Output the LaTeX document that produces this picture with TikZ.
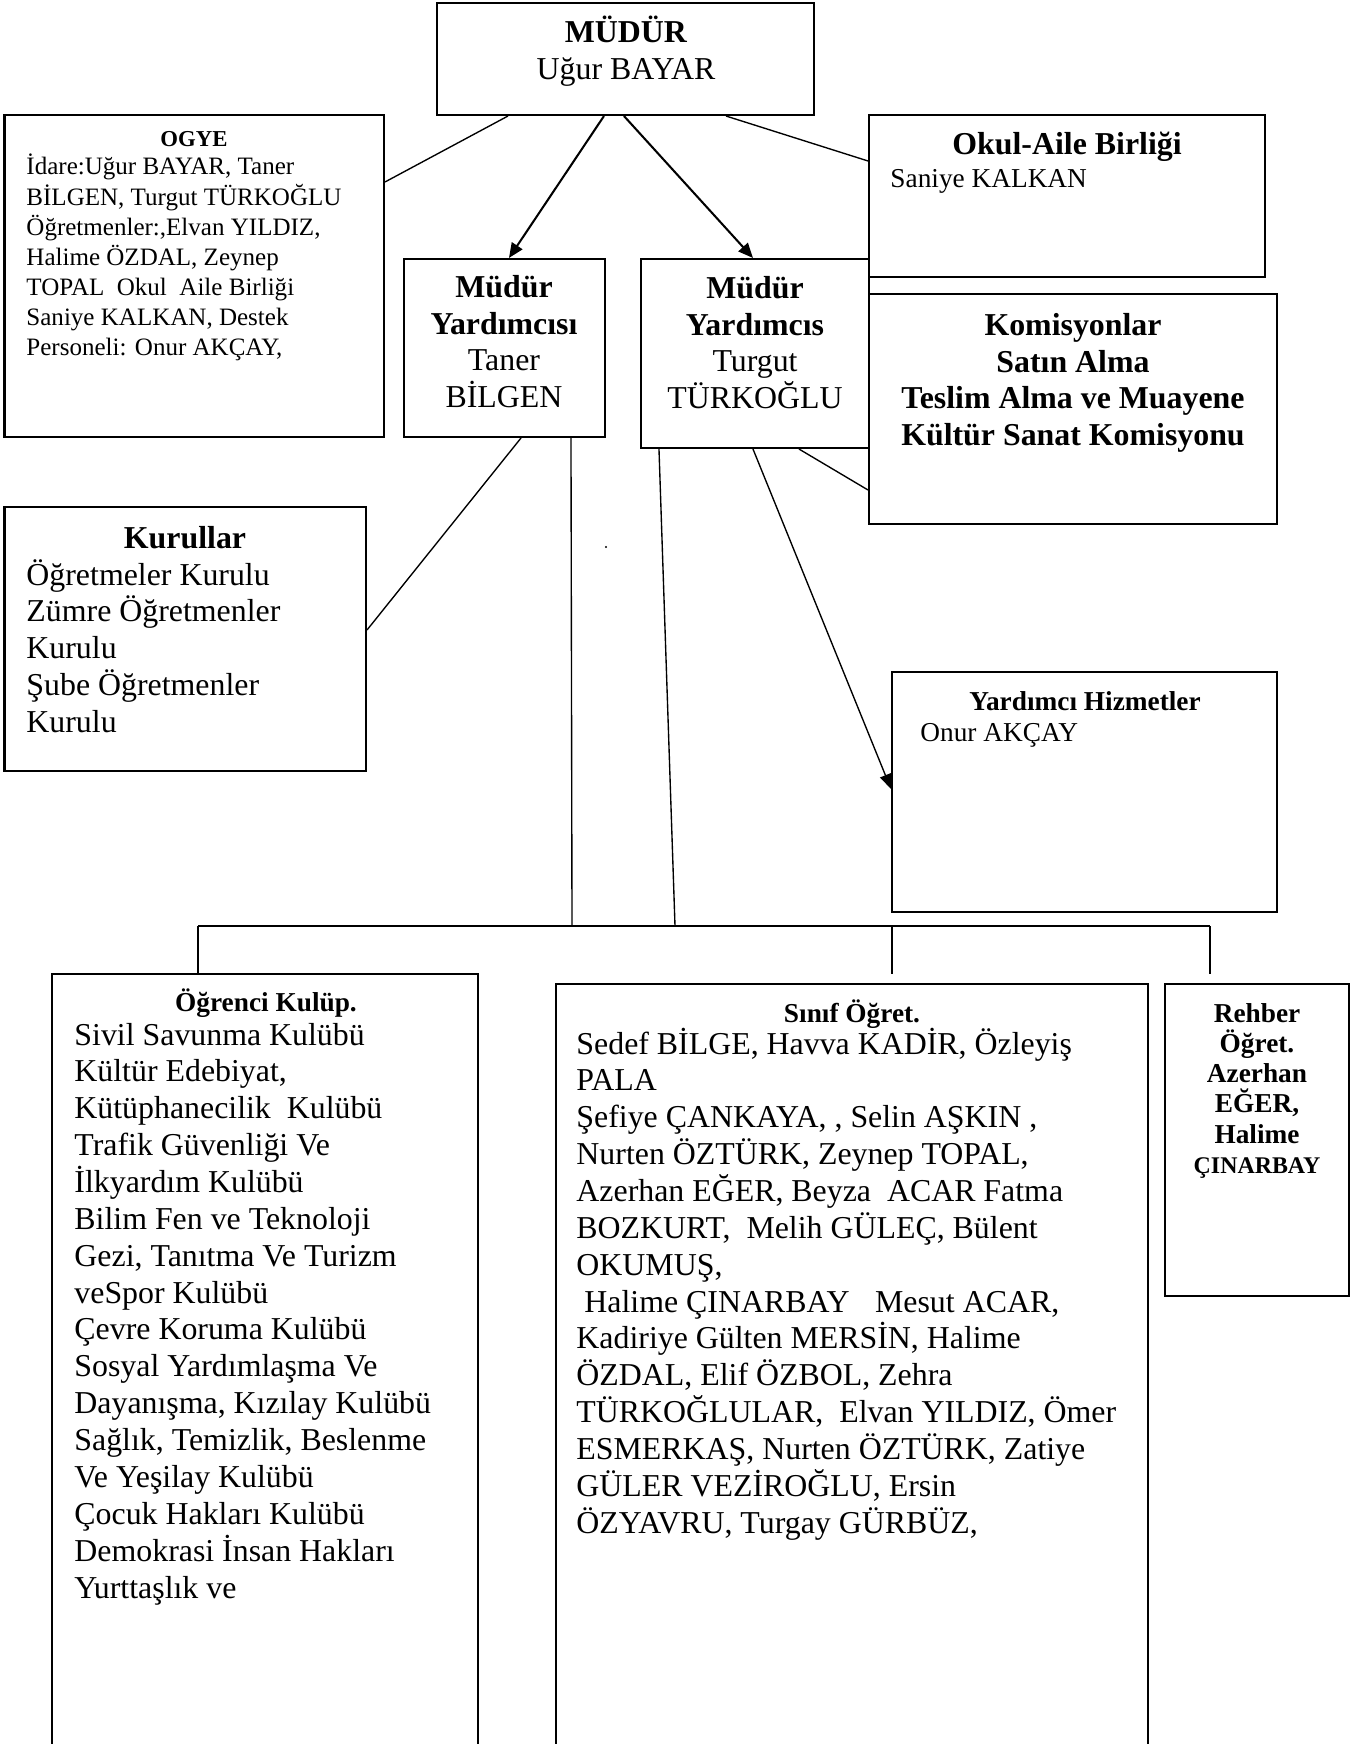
\documentclass[tikz,border=0pt]{standalone}
\usepackage{fontspec}
\setmainfont{Liberation Serif}
\usetikzlibrary{fit,calc,arrows.meta}
\begin{document}
\begin{tikzpicture}[x=0.4394pt,y=-0.4394pt,
  box/.style={draw,line width=0.9pt,inner sep=0pt},
  link/.style={line width=0.6pt},
  arr/.style={line width=0.9pt,-{Triangle[length=6.5pt,width=5.5pt]}},
  arrthin/.style={line width=0.6pt,-{Triangle[length=6.5pt,width=5pt]}},
  txt/.style={inner sep=0pt,anchor=base west},
  ctxt/.style={inner sep=0pt,anchor=base},
]
\useasboundingbox (0,0) rectangle (1355,1744);
\clip (0,0) rectangle (1355,1744);

% ---- boxes
\node[box, fit={(437,3) (814,115)}] (mudur) {};
\node[box, fit={(4.5,115) (384,437)}] (ogye) {};
\node[box, fit={(869,115) (1265,277)}] (oab) {};
\node[box, fit={(404,259) (605,437)}] (my1) {};
\node[box, fit={(641,259) (869,448)}] (my2) {};
\node[box, fit={(869,294) (1277,524)}] (kom) {};
\node[box, fit={(4.5,507) (366,771)}] (kur) {};
\node[box, fit={(892,672) (1277,912)}] (yh) {};
\node[box, fit={(52,974) (478,1780)}] (ok) {};
\node[box, fit={(556,984) (1148,1780)}] (sinif) {};
\node[box, fit={(1165,984) (1349,1296)}] (rehber) {};

% ---- texts
\node[ctxt] (mudurT) at (626,43) {\parbox[t]{300pt}{\centering\fontsize{14}{16.26}\selectfont
  \textbf{MÜDÜR}\\Uğur BAYAR}};

\node[ctxt] (ogyeH) at (194,147) {\fontsize{10}{12}\selectfont\bfseries OGYE};
\node[txt] (ogyeT) at (26,175) {\parbox[t]{300pt}{\raggedright\fontsize{11}{13.2}\selectfont
  İdare:Uğur BAYAR, Taner\\
  BİLGEN, Turgut TÜRKOĞLU\\
  Öğretmenler:,Elvan YILDIZ,\\
  Halime ÖZDAL, Zeynep\\
  TOPAL\ \ Okul\ \ Aile Birliği\\
  Saniye KALKAN, Destek\\
  Personeli: Onur AKÇAY,}};

\node[ctxt] (oabH) at (1067,155) {\fontsize{14}{16}\selectfont\bfseries Okul-Aile Birliği};
\node[txt] (oabT) at (890,188) {\fontsize{12}{14}\selectfont Saniye KALKAN};

\node[ctxt] (my1T) at (504,298) {\parbox[t]{150pt}{\centering\fontsize{14}{16}\selectfont
  \textbf{Müdür}\\\textbf{Yardımcısı}\\Taner\\BİLGEN}};
\node[ctxt] (my2T) at (755,299) {\parbox[t]{150pt}{\centering\fontsize{14}{16}\selectfont
  \textbf{Müdür}\\\textbf{Yardımcıs}\\Turgut\\TÜRKOĞLU}};

\node[ctxt] (komT) at (1073,336) {\parbox[t]{300pt}{\centering\fontsize{14}{16}\selectfont\bfseries
  Komisyonlar\\Satın Alma\\Teslim Alma ve Muayene\\Kültür Sanat Komisyonu}};

\node[ctxt] (kurH) at (185,548) {\fontsize{14}{16}\selectfont\bfseries Kurullar};
\node[txt] (kurT) at (26,585) {\parbox[t]{300pt}{\raggedright\fontsize{14}{16.15}\selectfont
  Öğretmeler Kurulu\\
  Zümre Öğretmenler\\
  Kurulu\\
  Şube Öğretmenler\\
  Kurulu}};

\node[ctxt] (yhH) at (1085,710) {\fontsize{12}{14}\selectfont\bfseries Yardımcı Hizmetler};
\node[txt] (yhT) at (920,741) {\fontsize{12}{14}\selectfont Onur AKÇAY};

\node[ctxt] (okH) at (266,1011) {\fontsize{12}{14}\selectfont\bfseries Öğrenci Kulüp.};
\node[txt] (okT) at (74,1045) {\parbox[t]{300pt}{\raggedright\fontsize{14}{16.2}\selectfont
  Sivil Savunma Kulübü\\
  Kültür Edebiyat,\\
  Kütüphanecilik\ \ Kulübü\\
  Trafik Güvenliği Ve\\
  İlkyardım Kulübü\\
  Bilim Fen ve Teknoloji\\
  Gezi, Tanıtma Ve Turizm\\
  veSpor Kulübü\\
  Çevre Koruma Kulübü\\
  Sosyal Yardımlaşma Ve\\
  Dayanışma, Kızılay Kulübü\\
  Sağlık, Temizlik, Beslenme\\
  Ve Yeşilay Kulübü\\
  Çocuk Hakları Kulübü\\
  Demokrasi İnsan Hakları\\
  Yurttaşlık ve}};

\node[ctxt] (sinifH) at (852,1022) {\fontsize{12}{14}\selectfont\bfseries Sınıf Öğret.};
\node[txt] (sinifT) at (576,1054) {\parbox[t]{400pt}{\raggedright\fontsize{14}{16.2}\selectfont
  Sedef BİLGE, Havva KADİR, Özleyiş\\
  PALA\\
  Şefiye ÇANKAYA, , Selin AŞKIN ,\\
  Nurten ÖZTÜRK, Zeynep TOPAL,\\
  Azerhan EĞER, Beyza\ \ ACAR Fatma\\
  BOZKURT,\ \ Melih GÜLEÇ, Bülent\\
  OKUMUŞ,\\
  \hspace*{0.25em}Halime ÇINARBAY\hspace{0.8em}Mesut ACAR,\\
  Kadiriye Gülten MERSİN, Halime\\
  ÖZDAL, Elif ÖZBOL, Zehra\\
  TÜRKOĞLULAR,\ \ Elvan YILDIZ, Ömer\\
  ESMERKAŞ, Nurten ÖZTÜRK, Zatiye\\
  GÜLER VEZİROĞLU, Ersin\\
  ÖZYAVRU, Turgay GÜRBÜZ,}};

\node[ctxt] (rehberT) at (1257,1022) {\parbox[t]{150pt}{\centering\fontsize{12}{13.3}\selectfont\bfseries
  Rehber\\Öğret.\\Azerhan\\EĞER,\\Halime\\{\fontsize{10.5}{13.3}\selectfont ÇINARBAY}}};

% ---- connectors
\draw[link] ($(mudur.south west)+(72,0)$) -- ($(ogye.north east)+(0,68)$);
\draw[arr] ($(mudur.south west)+(168,0)$) -- ($(my1.north west)+(106,0)$);
\draw[arr] ($(mudur.south west)+(188,0)$) -- ($(my2.north west)+(113,0)$);
\draw[link] ($(mudur.south west)+(290,0)$) -- ($(oab.north west)+(0,47)$);
\draw[link] ($(my1.south west)+(118,0)$) -- ($(kur.north east)+(0,124)$);
\draw[link] ($(my2.south west)+(159,0)$) -- ($(kom.north west)+(0,197)$);
\draw[arrthin] ($(my2.south west)+(113,0)$) -- ($(yh.north west)+(0,118)$);

\coordinate (b1) at (572,926);
\coordinate (b2) at (675,926);
\coordinate (busL) at (198,926);
\coordinate (busR) at (1210,926);
\coordinate (dS) at (892,974);
\coordinate (dR) at (1210,974);

\draw[link] ($(my1.south west)+(168,0)$) -- (b1);
\draw[link] ($(my2.south west)+(19,0)$) -- (b2);
\draw[link] (busL) -- (busR);
\draw[link] (busL) -- (busL |- ok.north);
\draw[link] (dS |- busL) -- (dS);
\draw[link] (busR) -- (dR);

% stray dot
\fill (606,547) circle (0.5pt);
\end{tikzpicture}
\end{document}
